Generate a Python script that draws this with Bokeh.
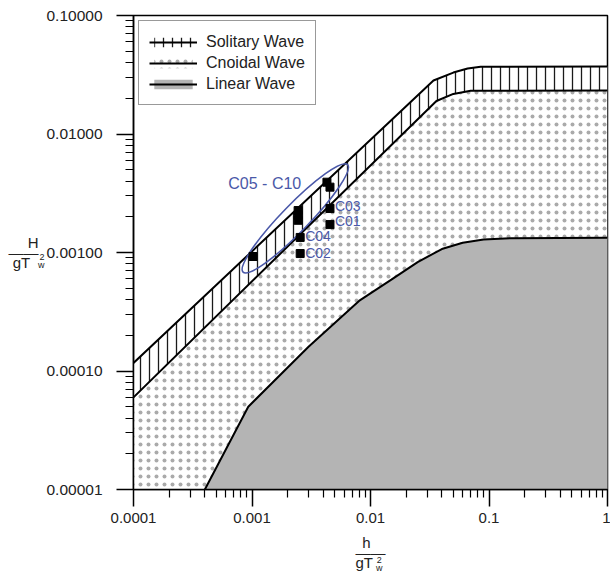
from bokeh.plotting import figure
from bokeh.models import (Range1d, FixedTicker, CustomJSTickFormatter, Legend, LegendItem,
                          Label, ColumnDataSource, LogAxis)
from bokeh.core.properties import value
from bokeh.embed import file_html
from bokeh.resources import INLINE

# ---------------- data ----------------
# upper limit of the solitary-wave band
sol_upper_x = [1e-4, 0.034, 0.05, 0.066, 0.085, 1.0]
sol_upper_y = [1.17e-4, 0.0283, 0.0330, 0.0357, 0.0370, 0.0371]
# lower limit of the solitary-wave band (= upper limit of cnoidal region)
sol_lower_x = [1e-4, 0.036, 0.05, 0.07, 1.0]
sol_lower_y = [6.0e-5, 0.0190, 0.0218, 0.0232, 0.0233]
# upper limit of the linear-wave region
lin_x = [4.0e-4, 9.3e-4, 3.0e-3, 8.0e-3, 0.015, 0.025, 0.04, 0.06, 0.09, 0.15, 1.0]
lin_y = [1.0e-5, 5.0e-5, 1.6e-4, 3.9e-4, 5.9e-4, 8.3e-4, 1.07e-3, 1.21e-3, 1.29e-3, 1.32e-3, 1.33e-3]

# measured cases C05 - C10 (group)
grp_x = [1.02e-3, 2.45e-3, 2.45e-3, 2.45e-3, 4.29e-3, 4.55e-3]
grp_y = [9.25e-4, 2.26e-3, 2.06e-3, 1.87e-3, 3.92e-3, 3.56e-3]
# individually labelled cases
case_names = ["C01", "C02", "C03", "C04"]
case_x = [4.55e-3, 2.55e-3, 4.55e-3, 2.55e-3]
case_y = [1.72e-3, 9.8e-4, 2.35e-3, 1.34e-3]
# ellipse around C05 - C10
ell_x = [2.32e-3]
ell_y = [1.94e-3]

x_ticks = [1e-4, 1e-3, 1e-2, 1e-1, 1.0]
x_tick_labels = ["0.0001", "0.001", "0.01", "0.1", "1"]
y_ticks = [1e-5, 1e-4, 1e-3, 1e-2, 1e-1]
y_tick_labels = ["0.00001", "0.00010", "0.00100", "0.01000", "0.10000"]

legend_labels = ["Solitary Wave", "Cnoidal Wave", "Linear Wave"]

# ---------------- figure ----------------
FONT = "Liberation Sans"
BLUE = "#4a58a8"
NB = "\u00a0"

p = figure(width=610, height=575, x_axis_type="log", y_axis_type="log",
           x_range=Range1d(1e-4, 1.0), y_range=Range1d(1e-5, 0.1),
           output_backend="svg", toolbar_location=None,
           min_border_left=133, min_border_right=3, min_border_top=15, min_border_bottom=85)
p.grid.visible = False
p.outline_line_color = "black"
p.outline_line_width = 1.5
p.background_fill_color = "white"
p.border_fill_color = "white"

# cnoidal region (dotted) below the solitary band
cn_x = sol_lower_x + [1.0, 1e-4]
cn_y = sol_lower_y + [1e-5, 1e-5]
cn_r = p.patch(cn_x, cn_y, fill_color="white", line_color=None,
               hatch_pattern=".", hatch_color="#aaaaaa", hatch_scale=8, hatch_weight=0.5)

# linear region (grey)
li_r = p.patch(lin_x + [1.0], lin_y + [1e-5], fill_color="#b4b4b4", line_color=None)

# solitary band (vertical hatch)
band_x = sol_upper_x + sol_lower_x[::-1]
band_y = sol_upper_y + sol_lower_y[::-1]
band_r = p.patch(band_x, band_y, fill_color="white", line_color=None,
                 hatch_pattern="|", hatch_color="#1a1a1a", hatch_scale=9, hatch_weight=1.3)

up_r = p.line(sol_upper_x, sol_upper_y, line_color="black", line_width=2)
lo_r = p.line(sol_lower_x, sol_lower_y, line_color="black", line_width=2)
ll_r = p.line(lin_x, lin_y, line_color="black", line_width=2)

# ellipse & markers
p.ellipse(x=ell_x, y=ell_y, width=150, height=27, angle=0.80,
          width_units="screen", height_units="screen",
          fill_color=None, line_color=BLUE, line_width=1.6)
p.scatter(grp_x, grp_y, marker="square", size=8, color="black")
p.scatter(case_x, case_y, marker="square", size=8, color="black")

lbl_src = ColumnDataSource(dict(x=case_x, y=case_y, text=case_names,
                                dx=[5, 5, 5, 5], dy=[-4, -1, -3, -1]))
p.text(x="x", y="y", text="text", x_offset="dx", y_offset="dy", source=lbl_src,
       text_font=value(FONT), text_font_size="14px", text_color=BLUE,
       text_baseline="middle", text_align="left")

p.add_layout(Label(x=ell_x[0], y=ell_y[0], x_offset=-67, y_offset=35, text="C05 - C10",
                   text_font=FONT, text_font_size="16px", text_color=BLUE,
                   text_baseline="middle", text_align="left"))

# ---------------- axes ----------------
fmt_code = """
let best = 0, bd = Infinity;
for (let i = 0; i < tvals.length; i++) {
  const d = Math.abs(Math.log10(tick) - Math.log10(tvals[i]));
  if (d < bd) { bd = d; best = i; }
}
return tlabels[best];
"""
x_minor = [m * t for t in x_ticks[:-1] for m in range(2, 10)]
y_minor = [m * t for t in y_ticks[:-1] for m in range(2, 10)]
p.xaxis.ticker = FixedTicker(ticks=x_ticks, minor_ticks=x_minor)
p.yaxis.ticker = FixedTicker(ticks=y_ticks, minor_ticks=y_minor)
p.xaxis.formatter = CustomJSTickFormatter(args=dict(tvals=x_ticks, tlabels=x_tick_labels), code=fmt_code)
p.yaxis.formatter = CustomJSTickFormatter(args=dict(tvals=y_ticks, tlabels=y_tick_labels), code=fmt_code)
for ax in (p.xaxis[0], p.yaxis[0]):
    ax.major_tick_out = 17
    ax.major_tick_in = 0
    ax.minor_tick_out = 8
    ax.minor_tick_in = 0
    ax.major_tick_line_width = 1.5
    ax.minor_tick_line_width = 1.2
    ax.axis_line_width = 1.5
    ax.major_label_text_font = FONT
    ax.major_label_text_color = "#222222"
    ax.axis_label_text_font = FONT
    ax.axis_label_text_font_style = "normal"
    ax.axis_label_text_color = "#222222"
    ax.axis_label_text_font_size = "15px"
    ax.axis_label_text_line_height = 0.6
p.xaxis.major_label_text_font_size = "15px"
p.yaxis.major_label_text_font_size = "15.5px"
p.xaxis.major_label_standoff = 6
p.yaxis.major_label_standoff = 14

# axis titles: fraction  H / gT^2_w  and  h / gT^2_w
p.yaxis.axis_label = "H\n\u2014\u2014\ngT" + NB * 2
p.yaxis.axis_label_orientation = "horizontal"
p.yaxis.axis_label_standoff = 5
p.xaxis.axis_label = "h" + NB * 2 + "\n\u2014\u2014\ngT" + NB * 3
p.xaxis.axis_label_standoff = 8

def script_axis(text, side, standoff):
    ax = LogAxis(ticker=FixedTicker(ticks=[]), axis_line_color=None,
                 major_tick_out=0, major_tick_in=0, minor_tick_out=0, minor_tick_in=0,
                 major_label_standoff=0, axis_label=text, axis_label_standoff=standoff,
                 axis_label_text_font=FONT, axis_label_text_font_style="normal",
                 axis_label_text_font_size="9px", axis_label_text_color="#222222",
                 axis_label_text_line_height=0.8)
    if side == "left":
        ax.axis_label_orientation = "horizontal"
    p.add_layout(ax, side)

script_axis(NB + "\n" + NB + "\n2\nw", "left", -39)
script_axis(NB * 7 + "2\n" + NB * 7 + "w", "below", -19)

# ---------------- legend ----------------
legend = Legend(items=[LegendItem(label=legend_labels[0], renderers=[band_r, up_r]),
                       LegendItem(label=legend_labels[1], renderers=[cn_r, lo_r]),
                       LegendItem(label=legend_labels[2], renderers=[li_r, ll_r])],
                location="top_left", margin=5, padding=10, spacing=0,
                glyph_width=48, glyph_height=12, label_height=21, label_standoff=9,
                label_text_font=FONT, label_text_font_size="16px", label_text_color="#222222",
                label_text_baseline="middle",
                border_line_color="#333333", border_line_width=1.5,
                background_fill_color="white", background_fill_alpha=1.0)
p.add_layout(legend)

open("out.html", "w").write(file_html(p, INLINE))
